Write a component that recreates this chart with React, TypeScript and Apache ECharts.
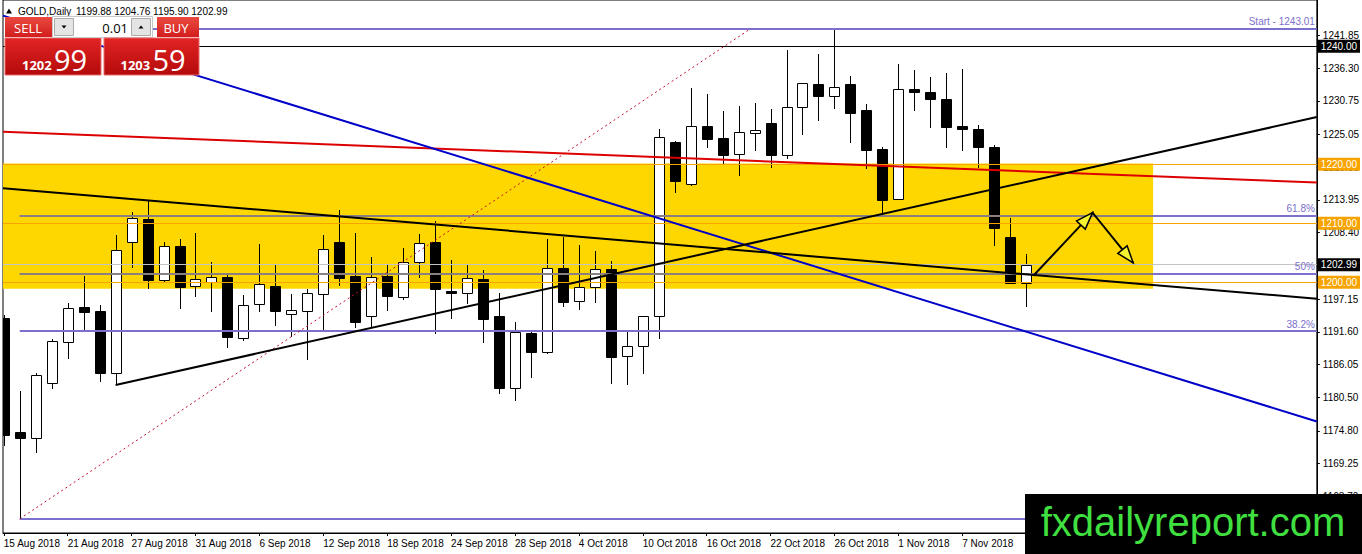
import React, { useEffect, useRef } from "react";
import * as echarts from "echarts";

// ---------- data ----------
const dates = [
  "15 Aug 2018","16 Aug 2018","17 Aug 2018","20 Aug 2018","21 Aug 2018","22 Aug 2018","23 Aug 2018","24 Aug 2018",
  "27 Aug 2018","28 Aug 2018","29 Aug 2018","30 Aug 2018","31 Aug 2018","3 Sep 2018","4 Sep 2018","5 Sep 2018",
  "6 Sep 2018","7 Sep 2018","10 Sep 2018","11 Sep 2018","12 Sep 2018","13 Sep 2018","14 Sep 2018","17 Sep 2018",
  "18 Sep 2018","19 Sep 2018","20 Sep 2018","21 Sep 2018","24 Sep 2018","25 Sep 2018","26 Sep 2018","27 Sep 2018",
  "28 Sep 2018","1 Oct 2018","2 Oct 2018","3 Oct 2018","4 Oct 2018","5 Oct 2018","8 Oct 2018","9 Oct 2018",
  "10 Oct 2018","11 Oct 2018","12 Oct 2018","15 Oct 2018","16 Oct 2018","17 Oct 2018","18 Oct 2018","19 Oct 2018",
  "22 Oct 2018","23 Oct 2018","24 Oct 2018","25 Oct 2018","26 Oct 2018","29 Oct 2018","30 Oct 2018","31 Oct 2018",
  "1 Nov 2018","2 Nov 2018","5 Nov 2018","6 Nov 2018","7 Nov 2018","8 Nov 2018","9 Nov 2018","12 Nov 2018","13 Nov 2018",
];

const opens = [
  1193.95, 1174.6, 1173.6, 1182.9, 1189.8, 1195.8, 1195.1, 1184.7,
  1206.9, 1210.7, 1200.4, 1206.15, 1199.4, 1200.1, 1200.85, 1190.6,
  1196.4, 1199.4, 1194.6, 1195.1, 1197.97, 1206.8, 1201.1, 1194.3,
  1201.1, 1197.55, 1203.4, 1206.8, 1198.6, 1198.2, 1200.6, 1194.2,
  1182.1, 1191.4, 1188.1, 1202.4, 1196.8, 1199.15, 1202.2, 1187.5,
  1189.2, 1194.2, 1223.7, 1216.6, 1226.5, 1224.5, 1221.7, 1225.25,
  1227.05, 1221.5, 1229.7, 1233.6, 1231.6, 1233.6, 1229.2, 1222.6,
  1214.1, 1232.8, 1232.3, 1231.1, 1226.5, 1225.9, 1222.9, 1207.6, 1199.88,
];
const highs = [
  1194.5, 1181.6, 1184.6, 1190.4, 1196.5, 1201.1, 1196.2, 1208.0,
  1211.9, 1213.8, 1206.9, 1207.3, 1208.4, 1203.5, 1201.2, 1197.85,
  1206.5, 1203.1, 1198.0, 1198.9, 1208.0, 1212.25, 1208.3, 1204.3,
  1203.1, 1205.8, 1208.1, 1210.4, 1203.8, 1202.9, 1202.1, 1198.1,
  1193.3, 1191.9, 1207.3, 1207.7, 1206.3, 1205.3, 1203.6, 1191.5,
  1194.3, 1225.9, 1224.0, 1232.9, 1231.9, 1229.0, 1229.8, 1230.4,
  1229.3, 1239.4, 1233.8, 1238.7, 1243.01, 1234.95, 1230.2, 1223.0,
  1237.0, 1236.0, 1234.75, 1235.4, 1236.1, 1226.6, 1223.2, 1210.85, 1204.76,
];
const lows = [
  1172.5, 1159.9, 1171.3, 1182.1, 1187.1, 1191.9, 1183.3, 1182.7,
  1202.6, 1199.1, 1200.1, 1195.7, 1197.7, 1195.2, 1189.1, 1190.2,
  1195.2, 1192.8, 1190.9, 1187.05, 1192.1, 1199.5, 1192.4, 1192.5,
  1195.3, 1197.1, 1200.85, 1191.4, 1193.9, 1196.5, 1189.9, 1181.3,
  1180.05, 1184.0, 1188.0, 1196.0, 1195.5, 1196.7, 1182.9, 1182.7,
  1184.7, 1190.6, 1215.35, 1216.5, 1223.0, 1220.05, 1218.2, 1222.4,
  1219.6, 1221.1, 1225.1, 1227.5, 1229.6, 1223.8, 1219.3, 1211.6,
  1214.1, 1229.2, 1226.4, 1223.0, 1222.5, 1219.6, 1206.3, 1199.8, 1195.9,
];
const closes = [
  1174.1, 1173.6, 1184.3, 1190.05, 1195.6, 1194.9, 1184.7, 1205.5,
  1210.85, 1200.4, 1206.15, 1199.25, 1200.5, 1200.85, 1190.8, 1196.1,
  1199.7, 1195.2, 1195.3, 1198.1, 1205.6, 1200.8, 1193.2, 1200.85,
  1197.7, 1203.4, 1206.6, 1198.8, 1198.1, 1200.7, 1193.8, 1182.1,
  1191.6, 1188.1, 1202.5, 1196.7, 1199.15, 1202.2, 1187.3, 1189.2,
  1194.2, 1224.6, 1217.2, 1226.5, 1224.3, 1221.6, 1225.4, 1225.75,
  1221.5, 1229.7, 1233.7, 1231.6, 1233.05, 1228.75, 1222.4, 1213.95,
  1232.8, 1232.3, 1231.1, 1226.4, 1226.0, 1222.9, 1209.15, 1199.8, 1202.99,
];

const xTickIdx = [0, 4, 8, 12, 16, 20, 24, 28, 32, 36, 40, 44, 48, 52, 56, 60];
const yTickLabels = [
  "1241.85", "1236.30", "1230.75", "1225.05", "1219.50", "1213.95", "1208.40", "1202.85",
  "1197.15", "1191.60", "1186.05", "1180.50", "1174.80", "1169.25", "1163.70",
];

const blackLevels = [1240.0];
const orangeLevels = [1220.0, 1210.0, 1200.0];
const bidPrice = 1202.99;
const askPrice = 1203.59;
const lotSize = "0.01";

const fibValues = [1243.01, 1211.25, 1201.45, 1191.7, 1159.9];
const fibLabels = ["Start - 1243.01", "61.8%", "50%", "38.2%", ""];
const fibInZone = [false, true, true, false, false];
const fibStartIdx = 1;

const zoneTop = 1220.15;
const zoneBottom = 1198.9;
const zoneEndIdx = 71.95;

// axis extents
const X_MIN = -0.05;
const X_MAX = 82.2;
const Y_MIN = 1157.5;
const Y_MAX = 1247.85;

const blueLine = [[X_MIN, 1245.2], [X_MAX, 1176.4]];
const redLine = [[X_MIN, 1225.5], [X_MAX, 1216.9]];
const blackFallLine = [[X_MIN, 1215.95], [X_MAX, 1197.2]];
const blackRiseLine = [[7, 1182.6], [X_MAX, 1228.0]];
const fibDiagonal = [[1, 1159.9], [46.76, 1243.01]];
const arrowPath = [[64.45, 1201.1], [68.16, 1211.8], [70.7, 1203.3]];

const symbolName = "GOLD,Daily";
const watermark = "fxdailyreport.com";

// ---------- styles ----------
const FONT = "'Liberation Sans', Arial, sans-serif";
const PANEL_FONT = "'Open Sans', 'Noto Sans', 'Liberation Sans', sans-serif";
const ORANGE = "#f7a300";
const FIB = "#7b70cc";
const FIB_ON_ZONE = "#8b7f80";

function tagLabel(text: string, bg: string) {
  return {
    show: true,
    position: "end",
    distance: 1,
    formatter: text,
    color: "#fff",
    backgroundColor: bg,
    padding: [2, 3, 1, 3],
    fontSize: 10,
    fontFamily: FONT,
  };
}

function trend(name: string, data: number[][], color: string, width: number, type: any = "solid", z = 7) {
  return {
    name,
    type: "line",
    data,
    showSymbol: false,
    symbol: "none",
    silent: true,
    clip: true,
    z,
    lineStyle: { color, width, type },
  };
}

function buildOption() {
  const candles = dates.map((_, i) => [i, opens[i], highs[i], lows[i], closes[i]]);
  const yTicks = yTickLabels.map(Number);
  const last = dates.length - 1;

  const redGrad = (a: string, b: string) =>
    new echarts.graphic.LinearGradient(0, 0, 0, 1, [
      { offset: 0, color: a },
      { offset: 1, color: b },
    ]);

  const splitPrice = (p: number) => {
    const s = p.toFixed(2).split(".");
    return { big: s[0], small: s[1] };
  };
  const bidParts = splitPrice(bidPrice);
  const askParts = splitPrice(askPrice);

  const Z = 100;
  const graphic: any[] = [
    // header
    { type: "polygon", z: Z, shape: { points: [[6, 13.5], [12, 13.5], [9, 8.5]] }, style: { fill: "#000" } },
    { type: "text", z: Z, x: 18, y: 11, style: { text: symbolName, font: `10px ${FONT}`, fill: "#000", verticalAlign: "middle", textVerticalAlign: "middle" } },
    {
      type: "text", z: Z, x: 76, y: 11,
      style: {
        text: [opens[last], highs[last], lows[last], closes[last]].map((v) => v.toFixed(2)).join(" "),
        font: `10px ${FONT}`, fill: "#000", verticalAlign: "middle", textVerticalAlign: "middle",
      },
    },
    // SELL
    { type: "rect", z: Z, shape: { x: 5, y: 17, width: 47, height: 20 }, style: { fill: redGrad("#ea4a40", "#d21e1e") } },
    { type: "text", z: Z, x: 28, y: 27.5, style: { text: "SELL", font: `13px ${PANEL_FONT}`, fill: "#fff", align: "center", textAlign: "center", verticalAlign: "middle", textVerticalAlign: "middle" } },
    { type: "rect", z: Z, shape: { x: 5, y: 38, width: 96, height: 37 }, style: { fill: redGrad("#e22424", "#b40a0a"), stroke: "#e86a6a", lineWidth: 1 } },
    { type: "text", z: Z, x: 22, y: 65, style: { text: bidParts.big, font: `bold 13px ${PANEL_FONT}`, fill: "#fff", verticalAlign: "middle", textVerticalAlign: "middle" } },
    { type: "text", z: Z, x: 54, y: 59.5, style: { text: bidParts.small, font: `29px ${PANEL_FONT}`, fill: "#fff", verticalAlign: "middle", textVerticalAlign: "middle" } },
    // lot box
    { type: "rect", z: Z, shape: { x: 52.5, y: 16.5, width: 100, height: 21 }, style: { fill: "#fff", stroke: "#c8c8c8", lineWidth: 1 } },
    { type: "rect", z: Z, shape: { x: 54.5, y: 18.5, width: 19, height: 17 }, style: { fill: "#e4e4e4", stroke: "#acacac", lineWidth: 1 } },
    { type: "polygon", z: Z, shape: { points: [[61.5, 25.5], [66.5, 25.5], [64, 28.5]] }, style: { fill: "#000" } },
    { type: "rect", z: Z, shape: { x: 131.5, y: 18.5, width: 19, height: 17 }, style: { fill: "#e4e4e4", stroke: "#acacac", lineWidth: 1 } },
    { type: "polygon", z: Z, shape: { points: [[138.5, 28.5], [143.5, 28.5], [141, 25.5]] }, style: { fill: "#000" } },
    { type: "text", z: Z, x: 128, y: 27.5, style: { text: lotSize, font: `13px ${PANEL_FONT}`, fill: "#000", align: "right", textAlign: "right", verticalAlign: "middle", textVerticalAlign: "middle" } },
    // BUY
    { type: "rect", z: Z, shape: { x: 157, y: 17, width: 42, height: 20 }, style: { fill: redGrad("#ea4a40", "#d21e1e") } },
    { type: "text", z: Z, x: 176, y: 27.5, style: { text: "BUY", font: `13px ${PANEL_FONT}`, fill: "#fff", align: "center", textAlign: "center", verticalAlign: "middle", textVerticalAlign: "middle" } },
    { type: "rect", z: Z, shape: { x: 104, y: 38, width: 95, height: 37 }, style: { fill: redGrad("#e22424", "#b40a0a"), stroke: "#e86a6a", lineWidth: 1 } },
    { type: "text", z: Z, x: 120.5, y: 65, style: { text: askParts.big, font: `bold 13px ${PANEL_FONT}`, fill: "#fff", verticalAlign: "middle", textVerticalAlign: "middle" } },
    { type: "text", z: Z, x: 152.5, y: 59.5, style: { text: askParts.small, font: `29px ${PANEL_FONT}`, fill: "#fff", verticalAlign: "middle", textVerticalAlign: "middle" } },
    // watermark
    { type: "rect", z: Z, shape: { x: 1025, y: 494, width: 337, height: 60 }, style: { fill: "#000" } },
    { type: "text", z: Z + 1, x: 1193, y: 522, style: { text: watermark, font: `40px 'Liberation Sans', Arial, sans-serif`, fill: "#3fe03f", align: "center", textAlign: "center", verticalAlign: "middle", textVerticalAlign: "middle" } },
  ];

  const levelMarks: any[] = [];
  blackLevels.forEach((v) =>
    levelMarks.push({ yAxis: v, lineStyle: { color: "#000", width: 1, type: "solid" }, label: tagLabel(v.toFixed(2), "#000") })
  );
  levelMarks.push({ yAxis: bidPrice, lineStyle: { color: "#c4c4c4", width: 1, type: "solid" }, label: tagLabel(bidPrice.toFixed(2), "#000") });
  orangeLevels.forEach((v) =>
    levelMarks.push({ yAxis: v, lineStyle: { color: ORANGE, width: 1, type: "solid" }, label: tagLabel(v.toFixed(2), ORANGE) })
  );

  const fibMarks = fibValues.map((v, k) => [
    { name: fibLabels[k], coord: [fibStartIdx, v] },
    { name: fibLabels[k], coord: [X_MAX, v] },
  ]);
  const fibZoneMarks = fibValues
    .map((v, k) => (fibInZone[k] ? [{ coord: [fibStartIdx, v] }, { coord: [zoneEndIdx, v] }] : null))
    .filter(Boolean);

  return {
    animation: false,
    backgroundColor: "#fff",
    graphic,
    grid: { left: 3, right: 43, top: 0, bottom: 21, show: true, borderColor: "#000", borderWidth: 1, backgroundColor: "transparent" },
    xAxis: {
      type: "value",
      min: X_MIN,
      max: X_MAX,
      axisLine: { show: true, onZero: false, lineStyle: { color: "#000", width: 1 } },
      axisTick: { show: true, length: 3, customValues: xTickIdx, lineStyle: { color: "#000" } },
      axisLabel: {
        show: true,
        customValues: xTickIdx,
        formatter: (v: number) => dates[Math.round(v)] || "",
        align: "left",
        color: "#000",
        fontSize: 10,
        fontFamily: FONT,
        margin: 5,
      },
      splitLine: { show: false },
    },
    yAxis: {
      type: "value",
      position: "right",
      min: Y_MIN,
      max: Y_MAX,
      axisLine: { show: true, onZero: false, lineStyle: { color: "#000", width: 1 } },
      axisTick: { show: true, length: 3, customValues: yTicks, lineStyle: { color: "#000" } },
      axisLabel: {
        show: true,
        customValues: yTicks,
        formatter: (v: number) => v.toFixed(2),
        color: "#000",
        fontSize: 10,
        fontFamily: FONT,
        margin: 6,
      },
      splitLine: { show: false },
    },
    series: [
      {
        name: "zone",
        type: "line",
        data: [],
        silent: true,
        markArea: {
          silent: true,
          z: 1,
          itemStyle: { color: "#ffd700" },
          data: [[{ coord: [X_MIN, zoneTop] }, { coord: [zoneEndIdx, zoneBottom] }]],
        },
      },
      {
        name: "GOLD",
        type: "custom",
        z: 3,
        clip: true,
        silent: true,
        data: candles,
        encode: { x: 0, y: [1, 2, 3, 4] },
        renderItem: (params: any, api: any) => {
          const i = api.value(0);
          const o = api.value(1);
          const h = api.value(2);
          const l = api.value(3);
          const c = api.value(4);
          const pO = api.coord([i, o]);
          const pC = api.coord([i, c]);
          const pH = api.coord([i, h]);
          const pL = api.coord([i, l]);
          const cx = Math.round(pO[0]);
          const top = Math.round(Math.min(pO[1], pC[1]));
          const bot = Math.round(Math.max(pO[1], pC[1]));
          const bull = c >= o;
          return {
            type: "group",
            children: [
              {
                type: "line",
                shape: { x1: cx + 0.5, y1: Math.round(pH[1]), x2: cx + 0.5, y2: Math.round(pL[1]) + 1 },
                style: { stroke: "#000", lineWidth: 1 },
              },
              {
                type: "rect",
                shape: { x: cx - 5 + 0.5, y: top + 0.5, width: 10, height: Math.max(bot - top, 1) },
                style: { fill: bull ? "#fff" : "#000", stroke: "#000", lineWidth: 1 },
              },
            ],
          };
        },
      },
      {
        name: "levels",
        type: "line",
        data: [],
        silent: true,
        markLine: {
          silent: true,
          z: 4,
          symbol: ["none", "none"],
          data: levelMarks,
        },
      },
      {
        name: "fibo",
        type: "line",
        data: [],
        silent: true,
        markLine: {
          silent: true,
          z: 5,
          symbol: ["none", "none"],
          lineStyle: { color: FIB, width: 2, type: "solid" },
          label: {
            show: true,
            position: "insideEndTop",
            formatter: "{b}",
            color: FIB,
            fontSize: 10,
            fontFamily: FONT,
            distance: 2,
          },
          data: fibMarks,
        },
      },
      {
        name: "fiboZone",
        type: "line",
        data: [],
        silent: true,
        markLine: {
          silent: true,
          z: 6,
          symbol: ["none", "none"],
          lineStyle: { color: FIB_ON_ZONE, width: 2, type: "solid" },
          label: { show: false },
          data: fibZoneMarks,
        },
      },
      trend("fibDiagonal", fibDiagonal, "#c8102e", 1, [2, 3], 6),
      trend("redLine", redLine, "#dd0000", 2),
      trend("blueLine", blueLine, "#0000c8", 2),
      trend("blackFall", blackFallLine, "#000", 2),
      trend("blackRise", blackRiseLine, "#000", 2),
      {
        name: "arrow",
        type: "custom",
        z: 9,
        silent: true,
        data: arrowPath,
        encode: { x: 0, y: 1 },
        renderItem: (params: any, api: any) => {
          if (params.dataIndex !== 0) return null;
          const pts = arrowPath.map((p) => api.coord(p));
          const children: any[] = [
            { type: "polyline", shape: { points: pts }, style: { stroke: "#000", lineWidth: 2, fill: null } },
          ];
          for (let k = 1; k < pts.length; k++) {
            const a = pts[k - 1];
            const b = pts[k];
            const dx = b[0] - a[0];
            const dy = b[1] - a[1];
            const len = Math.hypot(dx, dy);
            const ux = dx / len;
            const uy = dy / len;
            const L = 17;
            const W = 6;
            const bx = b[0] - ux * L;
            const by = b[1] - uy * L;
            children.push({
              type: "polygon",
              shape: { points: [[b[0], b[1]], [bx - uy * W, by + ux * W], [bx + uy * W, by - ux * W]] },
              style: { fill: "#f2f230", stroke: "#000", lineWidth: 1.5 },
            });
          }
          return { type: "group", children };
        },
      },
    ],
  };
}

export default function App() {
  const ref = useRef<HTMLDivElement>(null);
  useEffect(() => {
    if (!ref.current) return;
    const chart = echarts.init(ref.current, undefined, { renderer: "svg" });
    chart.setOption(buildOption() as any);
    return () => chart.dispose();
  }, []);
  return (
    <div
      ref={ref}
      style={{ position: "absolute", left: 0, top: 0, width: 1362, height: 554, background: "#fff" }}
    />
  );
}
